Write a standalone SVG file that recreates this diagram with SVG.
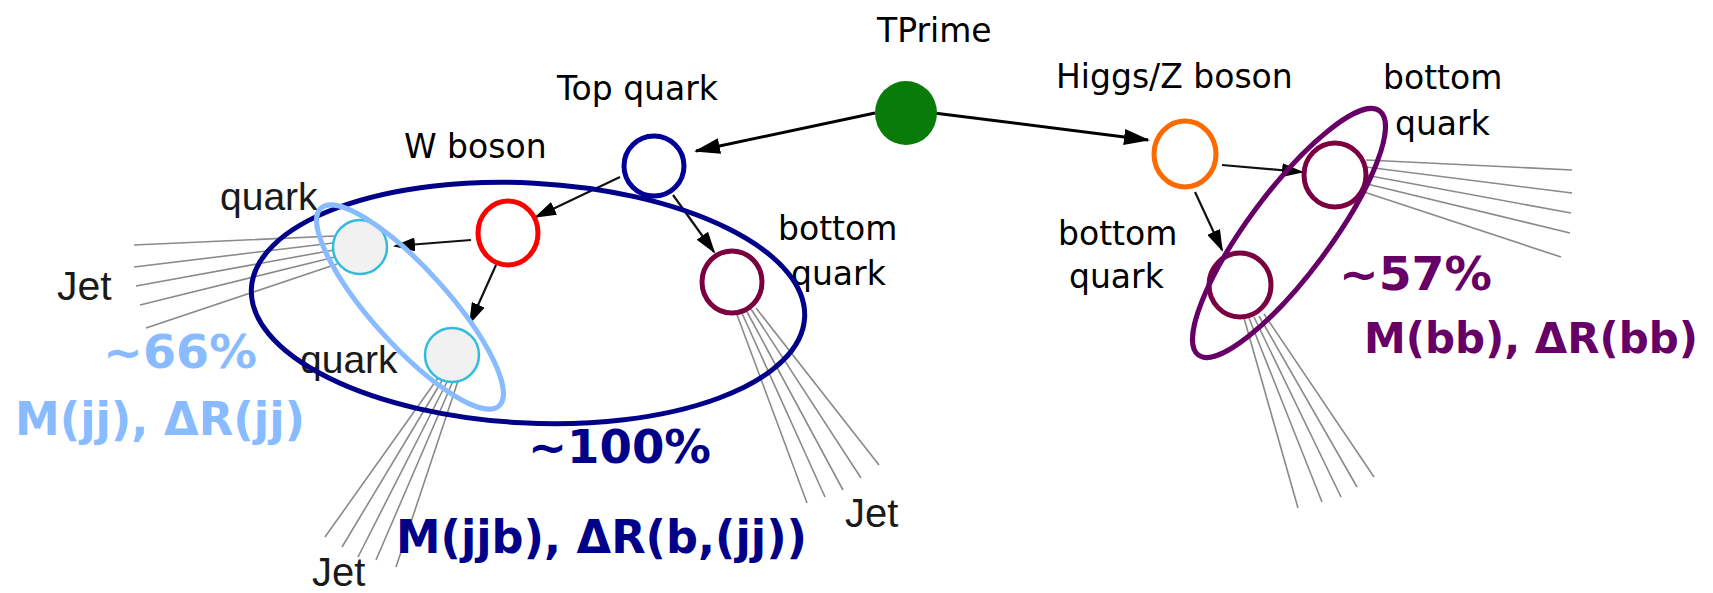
<svg xmlns="http://www.w3.org/2000/svg" width="1713" height="593" viewBox="0 0 1713 593">
<style>
.lbl{font-family:"DejaVu Sans",Verdana,sans-serif;font-size:33px;fill:#000}
.raw{font-family:"Liberation Sans",Arial,sans-serif;fill:#1a1a1a}
.big{font-family:"DejaVu Sans",Verdana,sans-serif;font-weight:bold;font-size:46px}
.jet{stroke:#8a8a8a;stroke-width:1.6;fill:none}
.arr{stroke:#000;stroke-width:3;fill:none}
.arr2{stroke:#111;stroke-width:2.2;fill:none}
.q{fill:#f1f1f1;stroke:#33bbdd;stroke-width:2.5}
.b{fill:none;stroke:#7a0040;stroke-width:5}
</style>
<defs>
<marker id="ah" markerUnits="userSpaceOnUse" markerWidth="26" markerHeight="16" refX="24" refY="8" orient="auto"><path d="M0,0 L26,8 L0,16 z" fill="#000"/></marker>
<marker id="ah2" markerUnits="userSpaceOnUse" markerWidth="22" markerHeight="14" refX="20" refY="7" orient="auto"><path d="M0,0 L22,7 L0,14 z" fill="#000"/></marker>
</defs>
<rect width="1713" height="593" fill="#fff"/>

<g id="connectors">
  <!-- jets -->
  <path class="jet" d="M334,236 L134,245 M333,243 L134,267 M334,250 L136,286 M335,257 L140,305 M337,264 L146,328"/>
  <path class="jet" d="M438,378 L325,537 M443,379 L342,547 M448,380 L358,557 M453,381 L376,560 M458,381 L396,567"/>
  <path class="jet" d="M736,312 L807,503 M741,311 L825,497 M746,310 L843,490 M751,309 L861,478 M756,308 L879,465"/>
  <path class="jet" d="M1366,160 L1572,170 M1366,167 L1572,193 M1365,175 L1571,213 M1363,183 L1570,233 M1361,191 L1561,257"/>
  <path class="jet" d="M1244,318 L1298,508 M1249,318 L1322,502 M1254,317 L1341,497 M1259,316 L1357,487 M1264,314 L1374,477"/>
  <!-- arrows -->
  <line class="arr" x1="875" y1="113" x2="696" y2="151" marker-end="url(#ah)"/>
  <line class="arr" x1="934" y1="113" x2="1148" y2="140" marker-end="url(#ah)"/>
  <line class="arr2" x1="620" y1="177" x2="536" y2="217" marker-end="url(#ah2)"/>
  <line class="arr2" x1="673" y1="195" x2="714" y2="252" marker-end="url(#ah2)"/>
  <line class="arr2" x1="471" y1="240" x2="395" y2="246" marker-end="url(#ah2)"/>
  <line class="arr2" x1="496" y1="265" x2="470" y2="323" marker-end="url(#ah2)"/>
  <line class="arr2" x1="1222" y1="165" x2="1302" y2="172" marker-end="url(#ah2)"/>
  <line class="arr2" x1="1195" y1="192" x2="1222" y2="250" marker-end="url(#ah2)"/>
</g>

<g id="tprime">
  <ellipse cx="906" cy="113" rx="31" ry="32" fill="#087b08"/>
  <text class="lbl" x="877" y="42">TPrime</text>
</g>
<g id="top-quark">
  <ellipse cx="654" cy="166" rx="30" ry="30" fill="none" stroke="#000099" stroke-width="5"/>
  <text class="lbl" x="557" y="100">Top quark</text>
</g>
<g id="w-boson">
  <ellipse cx="508" cy="233" rx="30" ry="32" fill="none" stroke="#ff0000" stroke-width="5"/>
  <text class="lbl" x="404" y="158">W boson</text>
</g>
<g id="quark-1">
  <circle class="q" cx="360" cy="247" r="27"/>
  <text class="raw" x="220" y="210" font-size="39">quark</text>
  <text class="raw" x="57" y="300" font-size="41">Jet</text>
</g>
<g id="quark-2">
  <circle class="q" cx="452" cy="355" r="27"/>
  <text class="raw" x="300" y="373" font-size="39">quark</text>
  <text class="raw" x="312" y="586" font-size="40">Jet</text>
</g>
<g id="bottom-quark-top">
  <ellipse class="b" cx="732" cy="282" rx="30" ry="31"/>
  <text class="lbl" x="778" y="240">bottom</text>
  <text class="lbl" x="791" y="285">quark</text>
  <text class="raw" x="845" y="527" font-size="40">Jet</text>
</g>
<g id="higgs">
  <ellipse cx="1185" cy="154" rx="31" ry="33" fill="none" stroke="#ff6a00" stroke-width="5"/>
  <text class="lbl" x="1056" y="88">Higgs/Z boson</text>
</g>
<g id="bottom-quark-h1">
  <ellipse class="b" cx="1335" cy="175" rx="31" ry="32"/>
  <text class="lbl" x="1383" y="89">bottom</text>
  <text class="lbl" x="1395" y="135">quark</text>
</g>
<g id="bottom-quark-h2">
  <ellipse class="b" cx="1240" cy="285" rx="31" ry="32"/>
  <text class="lbl" x="1058" y="245">bottom</text>
  <text class="lbl" x="1069" y="288">quark</text>
</g>

<g id="group-top">
  <ellipse cx="528" cy="303" rx="277" ry="120" transform="rotate(3 528 303)" fill="none" stroke="#000088" stroke-width="5"/>
  <text class="big" x="528" y="463" fill="#000088" textLength="183" lengthAdjust="spacingAndGlyphs">~100%</text>
  <text class="big" x="396" y="553" fill="#000088" textLength="411" lengthAdjust="spacingAndGlyphs">M(jjb), ΔR(b,(jj))</text>
</g>
<g id="group-w">
  <ellipse cx="410" cy="307" rx="133" ry="38" transform="rotate(48 410 307)" fill="none" stroke="#88bbff" stroke-width="5"/>
  <text class="big" x="103" y="368" fill="#88bbff" textLength="154" lengthAdjust="spacingAndGlyphs">~66%</text>
  <text class="big" x="15" y="435" fill="#88bbff" textLength="290" lengthAdjust="spacingAndGlyphs">M(jj), ΔR(jj)</text>
</g>
<g id="group-h">
  <ellipse cx="1289" cy="233" rx="152" ry="41" transform="rotate(-53.4 1289 233)" fill="none" stroke="#660066" stroke-width="5"/>
  <text class="big" x="1339" y="290" fill="#660066" textLength="153" lengthAdjust="spacingAndGlyphs">~57%</text>
  <text class="big" x="1364" y="353" fill="#660066" style="font-size:42px" textLength="334" lengthAdjust="spacingAndGlyphs">M(bb), ΔR(bb)</text>
</g>
</svg>
